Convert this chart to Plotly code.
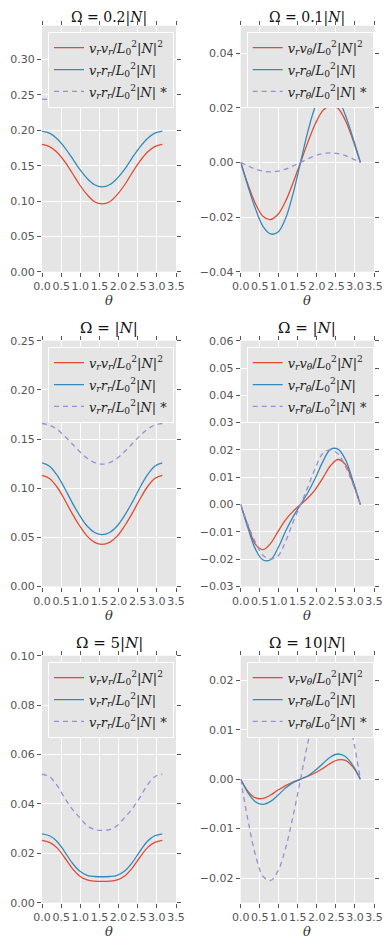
"""Six-panel figure: flux profiles vs theta for several rotation rates."""

import plotly.graph_objects as go

W, H = 391, 949
OFF = 8  # the page body margin shifts the figure by 8px right and down

RED = "#E24A33"
BLUE = "#348ABD"
PURPLE = "#988ED5"
GRAY_BG = "#E5E5E5"
TICK_GRAY = "#555555"

# theta samples (0 .. pi)
THETA = [0.0, 0.196, 0.393, 0.589, 0.785, 0.982, 1.178, 1.374, 1.571,
         1.767, 1.963, 2.160, 2.356, 2.553, 2.749, 2.945, 3.142]
X_TICKS = [0.0, 0.5, 1.0, 1.5, 2.0, 2.5, 3.0, 3.5]

# panel 1: Omega = 0.2|N|
P1_VV = [0.180, 0.177, 0.169, 0.156, 0.140, 0.123, 0.109, 0.099, 0.096,
         0.099, 0.109, 0.123, 0.140, 0.156, 0.169, 0.177, 0.180]
P1_VR = [0.199, 0.196, 0.188, 0.176, 0.161, 0.145, 0.132, 0.123, 0.120,
         0.123, 0.132, 0.145, 0.161, 0.176, 0.188, 0.196, 0.199]
P1_VRS = [0.244, 0.2435, 0.2425, 0.241, 0.2395, 0.238, 0.2365, 0.2355, 0.235,
          0.2355, 0.2365, 0.238, 0.2395, 0.241, 0.2425, 0.2435, 0.244]

# panel 2: Omega = 0.1|N|
P2_VV = [0, -0.0083, -0.0153, -0.0198, -0.0209, -0.0190, -0.0142, -0.0075, 0,
         0.0075, 0.0142, 0.0190, 0.0209, 0.0198, 0.0153, 0.0083, 0]
P2_VR = [0, -0.0090, -0.0172, -0.0235, -0.0262, -0.0255, -0.0205, -0.0115, 0,
         0.0115, 0.0205, 0.0255, 0.0262, 0.0235, 0.0172, 0.0090, 0]
P2_VRS = [0, -0.0013, -0.0025, -0.0032, -0.0035, -0.0032, -0.0025, -0.0013, 0,
          0.0013, 0.0025, 0.0032, 0.0035, 0.0032, 0.0025, 0.0013, 0]

# panel 3: Omega = |N|
P3_VV = [0.1131, 0.1099, 0.1012, 0.0885, 0.0744, 0.0618, 0.0512, 0.0449, 0.0428,
         0.0449, 0.0512, 0.0618, 0.0744, 0.0885, 0.1012, 0.1099, 0.1131]
P3_VR = [0.1257, 0.1224, 0.1133, 0.1002, 0.0856, 0.0724, 0.0615, 0.0549, 0.0527,
         0.0549, 0.0615, 0.0724, 0.0856, 0.1002, 0.1133, 0.1224, 0.1257]
P3_VRS = [0.1658, 0.1642, 0.1598, 0.1530, 0.1452, 0.1373, 0.1305, 0.1261, 0.1245,
          0.1261, 0.1305, 0.1373, 0.1452, 0.1530, 0.1598, 0.1642, 0.1658]

# panel 4: Omega = |N|
P4_VV = [0, -0.0080, -0.0147, -0.0165, -0.0142, -0.0098, -0.0056, -0.0025, 0,
         0.0025, 0.0056, 0.0098, 0.0142, 0.0165, 0.0147, 0.0080, 0]
P4_VR = [0, -0.0088, -0.0165, -0.0203, -0.0202, -0.0158, -0.0098, -0.0045, 0,
         0.0045, 0.0098, 0.0158, 0.0202, 0.0203, 0.0165, 0.0088, 0]
P4_VRS = [0, -0.0075, -0.0140, -0.0186, -0.0200, -0.0188, -0.0135, -0.0065, 0,
          0.0065, 0.0135, 0.0188, 0.0200, 0.0186, 0.0140, 0.0075, 0]

# panel 5: Omega = 5|N|
P5_VV = [0.0252, 0.0244, 0.0222, 0.0183, 0.0140, 0.0108, 0.0092, 0.0087, 0.0086,
         0.0087, 0.0092, 0.0108, 0.0140, 0.0183, 0.0222, 0.0244, 0.0252]
P5_VR = [0.0279, 0.0271, 0.0248, 0.0207, 0.0162, 0.0128, 0.0111, 0.0106, 0.0105,
         0.0106, 0.0111, 0.0128, 0.0162, 0.0207, 0.0248, 0.0271, 0.0279]
P5_VRS = [0.0520, 0.0510, 0.0475, 0.0425, 0.0380, 0.0345, 0.0312, 0.0296, 0.0293,
          0.0296, 0.0312, 0.0345, 0.0380, 0.0425, 0.0475, 0.0510, 0.0520]

# panel 6: Omega = 10|N|
P6_VV = [0, -0.0025, -0.0038, -0.0039, -0.0032, -0.0022, -0.0013, -0.0006, 0,
         0.0006, 0.0013, 0.0022, 0.0032, 0.0039, 0.0038, 0.0025, 0]
P6_VR = [0, -0.0028, -0.0046, -0.0051, -0.0045, -0.0032, -0.0018, -0.0007, 0,
         0.0007, 0.0018, 0.0032, 0.0045, 0.0051, 0.0046, 0.0028, 0]
P6_VRS = [0, -0.0085, -0.0155, -0.0197, -0.0205, -0.0185, -0.0140, -0.0075, 0,
          0.0075, 0.0140, 0.0185, 0.0205, 0.0197, 0.0155, 0.0085, 0]

TITLES = ["Ω = 0.2|<i>N</i>|", "Ω = 0.1|<i>N</i>|", "Ω = |<i>N</i>|",
          "Ω = |<i>N</i>|", "Ω = 5|<i>N</i>|", "Ω = 10|<i>N</i>|"]

LABELS_R = [
    "<i>v<sub>r</sub>v<sub>r</sub></i>/<i>L</i><sub>0</sub><sup>2</sup>|<i>N</i>|<sup>2</sup>",
    "<i>v<sub>r</sub>r<sub>r</sub></i>/<i>L</i><sub>0</sub><sup>2</sup>|<i>N</i>|",
    "<i>v<sub>r</sub>r<sub>r</sub></i>/<i>L</i><sub>0</sub><sup>2</sup>|<i>N</i>| *",
]
LABELS_T = [
    "<i>v<sub>r</sub>v<sub>θ</sub></i>/<i>L</i><sub>0</sub><sup>2</sup>|<i>N</i>|<sup>2</sup>",
    "<i>v<sub>r</sub>r<sub>θ</sub></i>/<i>L</i><sub>0</sub><sup>2</sup>|<i>N</i>|",
    "<i>v<sub>r</sub>r<sub>θ</sub></i>/<i>L</i><sub>0</sub><sup>2</sup>|<i>N</i>| *",
]

# y ranges and tick values per panel
Y_RANGES = [[0, 0.348], [-0.04, 0.05], [0, 0.25], [-0.03, 0.06], [0, 0.10], [-0.025, 0.025]]
Y_TICKS = [
    [0.0, 0.05, 0.10, 0.15, 0.20, 0.25, 0.30],
    [-0.04, -0.02, 0.0, 0.02, 0.04],
    [0.0, 0.05, 0.10, 0.15, 0.20, 0.25],
    [-0.03, -0.02, -0.01, 0.0, 0.01, 0.02, 0.03, 0.04, 0.05, 0.06],
    [0.0, 0.02, 0.04, 0.06, 0.08, 0.10],
    [-0.02, -0.01, 0.0, 0.01, 0.02],
]

PANELS = [
    (P1_VV, P1_VR, P1_VRS),
    (P2_VV, P2_VR, P2_VRS),
    (P3_VV, P3_VR, P3_VRS),
    (P4_VV, P4_VR, P4_VRS),
    (P5_VV, P5_VR, P5_VRS),
    (P6_VV, P6_VR, P6_VRS),
]

# plot boxes in screen pixels: (left, right) and (top, bottom)
COLS = [(42, 176), (240.7, 374)]
ROWS = [(25.7, 271.7), (340.7, 586.5), (655.7, 902.7)]


def px_x(px):
    return (px - OFF) / W


def px_y(px):
    return 1 - (px - OFF) / H


fig = go.Figure()
layout = dict(
    width=W, height=H, autosize=False,
    # keep the margins fixed so the pixel domains hold
    margin=dict(l=0, r=0, t=0, b=0, autoexpand=False),
    paper_bgcolor="white",
    plot_bgcolor=GRAY_BG,
    font=dict(family="DejaVu Sans", size=11, color=TICK_GRAY),
    annotations=[],
)

for i, series in enumerate(PANELS):
    row, col = divmod(i, 2)
    left, right = COLS[col]
    top, bottom = ROWS[row]
    n = i + 1
    xa = "x" if n == 1 else f"x{n}"
    ya = "y" if n == 1 else f"y{n}"
    leg = "legend" if n == 1 else f"legend{n}"
    labels = LABELS_R if col == 0 else LABELS_T

    for k, (vals, color, dash, label) in enumerate(zip(
            series, [RED, BLUE, PURPLE], ["solid", "solid", "5px,4px"], labels)):
        fig.add_trace(go.Scatter(
            x=THETA, y=vals, mode="lines", name=label,
            line=dict(color=color, width=1.3, dash=dash, shape="spline"),
            xaxis=xa, yaxis=ya, legend=leg, legendgroup=f"g{n}_{k}",
        ))

    axis_common = dict(
        showgrid=True, gridcolor="white", gridwidth=1,
        zeroline=False, showline=False,
        ticks="outside", ticklen=4, tickcolor=TICK_GRAY,
        mirror="ticks", automargin=False,
        tickfont=dict(family="DejaVu Sans", size=11, color=TICK_GRAY),
    )
    layout[f"xaxis{'' if n == 1 else n}"] = dict(
        axis_common,
        domain=[px_x(left), px_x(right)], anchor=ya,
        range=[0, 3.5], tickmode="array", tickvals=X_TICKS,
        ticktext=[f"{t:.1f}" for t in X_TICKS], tickangle=0,
    )
    layout[f"yaxis{'' if n == 1 else n}"] = dict(
        axis_common,
        domain=[px_y(bottom), px_y(top)], anchor=xa,
        range=Y_RANGES[i], tickmode="array", tickvals=Y_TICKS[i],
        ticktext=[f"{t:.2f}".replace("-", "\u2212") for t in Y_TICKS[i]],
    )
    layout[leg] = dict(
        x=px_x(left + 6), y=px_y(top + 6),
        xanchor="left", yanchor="top",
        bgcolor=GRAY_BG, bordercolor="white", borderwidth=1,
        font=dict(family="DejaVu Serif", size=13, color="#222222"),
        tracegroupgap=2,
    )
    cx = px_x((left + right) / 2)
    if row == 0:
        # top row: pin the title to the top edge so it is not clipped
        title_pos = dict(y=1, yanchor="top", borderpad=0)
        title_size = 14
    else:
        title_pos = dict(y=px_y(top - 2), yanchor="bottom")
        title_size = 15
    layout["annotations"].append(dict(
        text=TITLES[i], x=cx, xref="paper", yref="paper",
        xanchor="center", showarrow=False,
        font=dict(family="DejaVu Serif", size=title_size, color="#111111"),
        **title_pos,
    ))
    layout["annotations"].append(dict(
        text="<i>θ</i>", x=cx, y=px_y(bottom + 29), xref="paper", yref="paper",
        xanchor="center", yanchor="middle", showarrow=False,
        font=dict(family="DejaVu Serif", size=13, color="#333333"),
    ))

fig.update_layout(**layout)
fig.write_html("out.html")
